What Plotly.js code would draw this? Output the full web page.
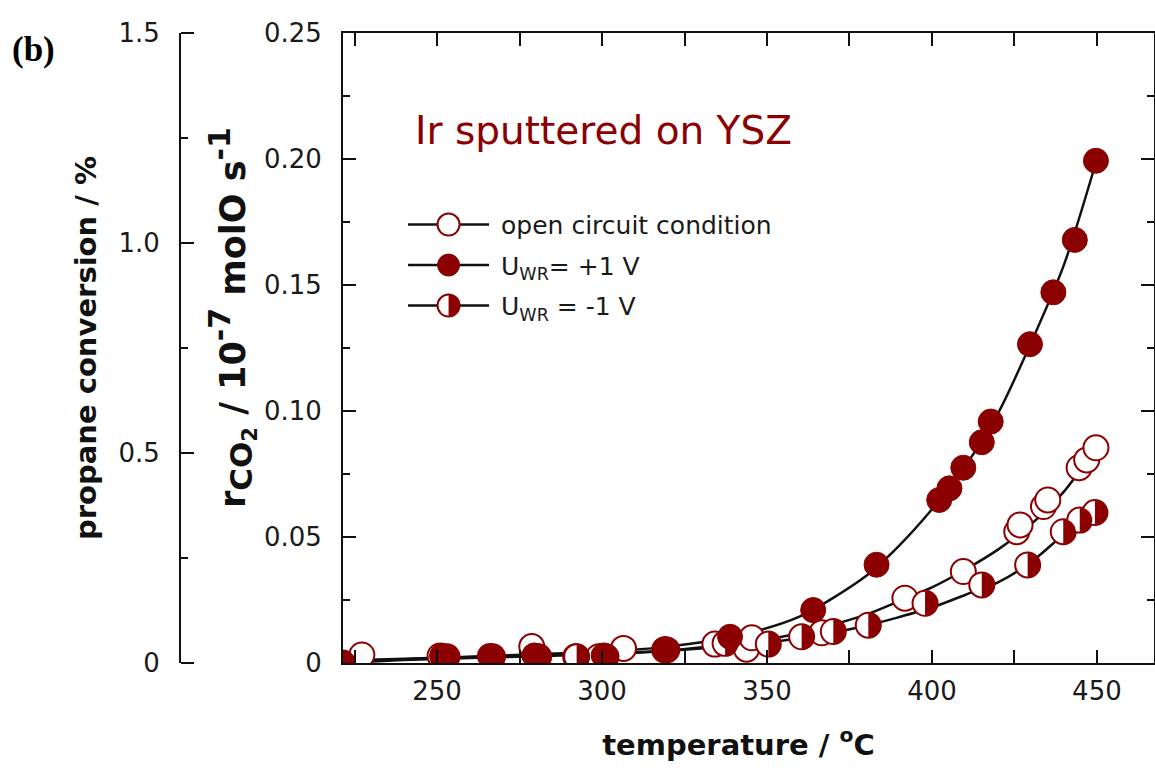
<!DOCTYPE html>
<html><head><meta charset="utf-8">
<script src="https://cdn.plot.ly/plotly-3.0.1.min.js"></script>
<style>html,body{margin:0;padding:0;background:#fff}</style>
</head><body>
<div id="chart" style="width:1155px;height:771px"></div>
<script>
// ---- data ----
const openT = [227.2, 250.9, 278.7, 292.0, 299.0, 306.5, 319.0, 334.2, 343.8, 345.4, 366.6, 391.8, 409.5, 425.7, 426.7, 433.8, 435.1, 444.6, 446.9, 449.7];
const openR = [0.0032, 0.0028, 0.0065, 0.0025, 0.0025, 0.0058, 0.0052, 0.0075, 0.0055, 0.0100, 0.0120, 0.0257, 0.0363, 0.0521, 0.0548, 0.0621, 0.0647, 0.0775, 0.0806, 0.0854];

const posT = [251.5, 266.0, 279.5, 300.5, 319.0, 338.8, 364.0, 383.2, 402.2, 405.3, 409.5, 415.1, 417.8, 429.7, 436.8, 443.3, 449.7];
const posR = [0.0028, 0.0028, 0.0030, 0.0030, 0.0055, 0.0104, 0.0210, 0.0390, 0.0647, 0.0693, 0.0775, 0.0876, 0.0958, 0.1265, 0.1471, 0.1679, 0.1993];

const negT = [221.3, 253.0, 266.8, 280.8, 292.3, 301.2, 319.6, 337.3, 350.4, 360.5, 370.1, 380.7, 397.9, 415.1, 429.0, 439.8, 444.8, 449.4];
const negR = [0.0000, 0.0025, 0.0025, 0.0025, 0.0025, 0.0025, 0.0052, 0.0078, 0.0075, 0.0104, 0.0125, 0.0150, 0.0237, 0.0310, 0.0389, 0.0521, 0.0567, 0.0597];

// fitted curves
const fitT    = [221, 240, 260, 280, 300, 320, 340, 360, 380, 390, 400, 410, 420, 430, 440, 450];
const fitPos  = [0.0005, 0.0015, 0.0025, 0.0035, 0.0045, 0.0065, 0.0105, 0.0185, 0.0345, 0.0465, 0.061, 0.078, 0.099, 0.127, 0.158, 0.200];
const fitOpen = [0.0010, 0.0017, 0.0024, 0.0030, 0.0038, 0.0050, 0.0076, 0.0118, 0.0192, 0.0245, 0.030, 0.037, 0.045, 0.055, 0.068, 0.086];
const fitNeg  = [0.0000, 0.0012, 0.0020, 0.0027, 0.0035, 0.0048, 0.0068, 0.0098, 0.0148, 0.0182, 0.022, 0.027, 0.032, 0.040, 0.051, 0.060];

const yTickVals = [0, 0.05, 0.10, 0.15, 0.20, 0.25];
const yTickText = ['0', '0.05', '0.10', '0.15', '0.20', '0.25'];
const legendNames = ['open circuit condition', 'U<sub>WR</sub>= +1 V', 'U<sub>WR</sub> = -1 V'];

// ---- styling ----
const RED = '#8B0000';
const INK = '#111111';
const MS = 25;
const FONT = 'DejaVu Sans';

const curve = (y) => ({x: fitT, y: y, mode: 'lines', line: {color: INK, width: 2.5, shape: 'spline', smoothing: 0.8}, showlegend: false, hoverinfo: 'skip'});

const data = [
  curve(fitPos), curve(fitOpen), curve(fitNeg),
  {x: openT, y: openR, mode: 'markers', showlegend: false, uid: 'openpts',
   marker: {symbol: 'circle', size: MS, color: '#ffffff', line: {color: RED, width: 2}}},
  {x: negT, y: negR, mode: 'markers', showlegend: false, uid: 'negbase',
   marker: {symbol: 'circle', size: MS, color: '#ffffff', line: {color: RED, width: 2}}},
  {x: negT, y: negR, mode: 'markers', showlegend: false, uid: 'neghalf',
   marker: {symbol: 'circle', size: MS, color: RED, line: {width: 0}}},
  {x: posT, y: posR, mode: 'markers', showlegend: false, uid: 'pospts',
   marker: {symbol: 'circle', size: MS, color: RED, line: {color: RED, width: 1}}},
  // legend entries
  {x: [null], y: [null], mode: 'lines+markers', name: legendNames[0], uid: 'leg0', legendgroup: 'g0',
   line: {color: INK, width: 2.5}, marker: {symbol: 'circle', size: MS, color: '#fff', line: {color: RED, width: 2}}},
  {x: [null], y: [null], mode: 'lines+markers', name: legendNames[1], uid: 'leg1', legendgroup: 'g1',
   line: {color: INK, width: 2.5}, marker: {symbol: 'circle', size: MS, color: RED, line: {color: RED, width: 1}}},
  {x: [null], y: [null], mode: 'lines+markers', name: legendNames[2], uid: 'leg2', legendgroup: 'g2',
   line: {color: INK, width: 2.5}, marker: {symbol: 'circle', size: MS, color: '#fff', line: {color: RED, width: 2}}},
  // carriers for the propane-conversion axis
  {x: [null], y: [null], yaxis: 'y2', mode: 'markers', showlegend: false, hoverinfo: 'skip'},
  {x: [null], y: [null], yaxis: 'y3', mode: 'markers', showlegend: false, hoverinfo: 'skip'}
];

const axCommon = {
  ticks: 'inside', ticklen: 13, tickwidth: 2, tickcolor: INK,
  showline: true, linewidth: 2, linecolor: INK, showgrid: false, zeroline: false,
  tickfont: {family: FONT, size: 26, color: '#1a1a1a'}
};

const yTitle = '<b>\u00a0\u00a0\u00a0\u00a0\u00a0r<sub><span style="font-size:31px">CO</span><sub><span style="font-size:21px">2</span></sub></sub>' +
  ' / 10<sup><span style="font-size:30px">-7</span></sup> molO s<sup><span style="font-size:30px">-1</span></sup></b>';

const layout = {
  width: 1155, height: 771,
  margin: {l: 180, r: 1, t: 33, b: 108, pad: 0},
  paper_bgcolor: '#ffffff', plot_bgcolor: 'rgba(0,0,0,0)',
  font: {family: FONT, size: 25, color: '#1a1a1a'},
  showlegend: true,
  xaxis: Object.assign({}, axCommon, {
    domain: [0.1674, 1], range: [221.5, 467.3],
    tickmode: 'linear', tick0: 0, dtick: 50,
    minor: {tickmode: 'linear', tick0: 0, dtick: 25, ticks: 'inside', ticklen: 7, tickwidth: 2, tickcolor: INK},
    mirror: 'allticks', ticklabelstandoff: 4,
    title: {text: '<b>temperature / <sup>o</sup>C\u00a0\u00a0</b>', font: {family: FONT, size: 29, color: '#111'}, standoff: 29}
  }),
  yaxis: Object.assign({}, axCommon, {
    range: [0, 0.25], tickmode: 'array', tickvals: yTickVals, ticktext: yTickText,
    minor: {tickmode: 'linear', tick0: 0, dtick: 0.025, ticks: 'inside', ticklen: 7, tickwidth: 2, tickcolor: INK},
    mirror: 'allticks', ticklabelstandoff: 14,
    title: {text: yTitle, font: {family: FONT, size: 35, color: '#111'}, standoff: 8}
  }),
  yaxis2: Object.assign({}, axCommon, {
    overlaying: 'y', anchor: 'free', position: 0, side: 'left',
    range: [0, 1.5], tickmode: 'linear', tick0: 0, dtick: 0.5, tickformat: '.1f', labelalias: {'0.0': '0'},
    minor: {tickmode: 'linear', tick0: 0, dtick: 0.25, ticks: 'inside', ticklen: 7, tickwidth: 2, tickcolor: INK},
    ticklabelstandoff: 14,
    title: {text: '<b>propane conversion / %</b>', font: {family: FONT, size: 29, color: '#111'}, standoff: 12}
  }),
  // long (major-length) marks of the propane-conversion axis
  yaxis3: {
    overlaying: 'y', anchor: 'free', position: 0, side: 'left',
    range: [0, 1.5], showline: false, showgrid: false, zeroline: false, showticklabels: false,
    ticks: '', tickmode: 'linear', tick0: 10, dtick: 20,
    minor: {tickmode: 'linear', tick0: 0, dtick: 0.5, ticks: 'inside', ticklen: 13, tickwidth: 2, tickcolor: INK}
  },
  legend: {x: 0.229, y: 0.732, xanchor: 'left', yanchor: 'top', bgcolor: 'rgba(0,0,0,0)',
           font: {family: FONT, size: 25, color: '#1a1a1a'}, itemwidth: 88, tracegroupgap: 5, traceorder: 'grouped'},
  annotations: [
    {text: '<b>(b)</b>', xref: 'paper', yref: 'paper', x: -0.15, y: 0.9746, xanchor: 'center', yanchor: 'middle',
     showarrow: false, font: {family: 'Liberation Serif', size: 35, color: '#000'}},
    {text: 'Ir sputtered on YSZ', xref: 'paper', yref: 'paper', x: 0.2392, y: 0.846, xanchor: 'left', yanchor: 'middle',
     showarrow: false, font: {family: FONT, size: 39, color: RED}}
  ]
};

function halfPath(r) { return 'M0,' + (-r) + 'A' + r + ',' + r + ' 0 0,1 0,' + r + 'Z'; }
function circPath(r) { return 'M' + r + ',0A' + r + ',' + r + ' 0 1,1 0,-' + r + 'A' + r + ',' + r + ' 0 0,1 ' + r + ',0Z'; }

function patch() {
  const gd = document.getElementById('chart');
  const R = MS / 2;
  gd.querySelectorAll('.traceneghalf path.point').forEach(p => p.setAttribute('d', halfPath(R)));
  // legend symbols: longer line, full-size markers, half-filled for -1 V
  const items = gd.querySelectorAll('.legend g.traces');
  items.forEach((g) => {
    g.querySelectorAll('.legendlines path').forEach(p => p.setAttribute('d', 'M5,0h81'));
    const pts = g.querySelectorAll('.legendpoints path.scatterpts');
    pts.forEach(p => { p.setAttribute('d', circPath(11)); p.setAttribute('transform', 'translate(45.5,0)'); });
    const txt = g.textContent || '';
    if (txt.indexOf('-1') >= 0 && pts.length && !g.querySelector('.halfmark')) {
      const h = pts[0].cloneNode(false);
      h.setAttribute('d', halfPath(11));
      h.setAttribute('class', 'halfmark');
      h.style.fill = RED; h.style.stroke = 'none';
      pts[0].parentNode.appendChild(h);
    }
  });
}

Plotly.newPlot('chart', data, layout, {displayModeBar: false, staticPlot: true}).then(gd => {
  patch();
  gd.on('plotly_afterplot', patch);
});
</script>
</body></html>
